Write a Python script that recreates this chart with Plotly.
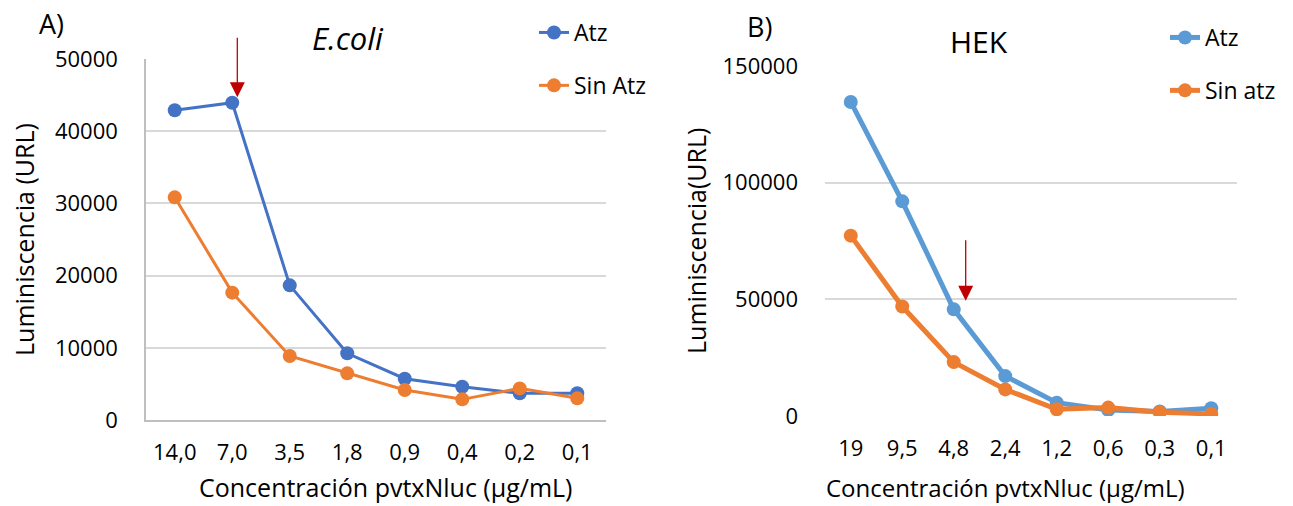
import plotly.graph_objects as go

# ---------------- data ----------------
cats_a = ["14,0", "7,0", "3,5", "1,8", "0,9", "0,4", "0,2", "0,1"]
atz_a = [42900, 43950, 18650, 9240, 5720, 4610, 3690, 3700]
sin_atz_a = [30840, 17640, 8860, 6460, 4150, 2860, 4380, 3000]

cats_b = ["19", "9,5", "4,8", "2,4", "1,2", "0,6", "0,3", "0,1"]
atz_b = [134600, 92000, 45700, 17100, 5700, 2600, 1900, 3300]
sin_atz_b = [77300, 46900, 23100, 11400, 2900, 3600, 1600, 900]

yticks_a = [0, 10000, 20000, 30000, 40000, 50000]
yticks_b = [0, 50000, 100000, 150000]

W, H = 1293, 506
FONT = "Open Sans"
BLUE_A = "#4472C4"
BLUE_B = "#5B9BD5"
ORANGE = "#ED7D31"
GRID = "#D9D9D9"
RED = "#C00000"


def px(x):
    return x / W


def py(y):
    return (H - y) / H


fig = go.Figure()

fig.add_trace(go.Scatter(x=cats_a, y=atz_a, name="Atz", mode="lines+markers",
                         line=dict(color=BLUE_A, width=3), marker=dict(size=14, color=BLUE_A),
                         xaxis="x", yaxis="y", legend="legend", legendgroup="a1"))
fig.add_trace(go.Scatter(x=cats_a, y=sin_atz_a, name="Sin Atz", mode="lines+markers",
                         line=dict(color=ORANGE, width=3), marker=dict(size=14, color=ORANGE),
                         xaxis="x", yaxis="y", legend="legend", legendgroup="a2"))
fig.add_trace(go.Scatter(x=cats_b, y=atz_b, name="Atz", mode="lines+markers",
                         line=dict(color=BLUE_B, width=5), marker=dict(size=14, color=BLUE_B),
                         xaxis="x2", yaxis="y2", legend="legend2", legendgroup="b1"))
fig.add_trace(go.Scatter(x=cats_b, y=sin_atz_b, name="Sin atz", mode="lines+markers",
                         line=dict(color=ORANGE, width=5), marker=dict(size=14, color=ORANGE),
                         xaxis="x2", yaxis="y2", legend="legend2", legendgroup="b2"))

tickfont = dict(family=FONT, size=22, color="#000000")

fig.update_layout(
    width=W, height=H,
    margin=dict(l=0, r=0, t=0, b=0, autoexpand=False),
    paper_bgcolor="white", plot_bgcolor="white",
    font=dict(family=FONT, color="#000000"),
    hovermode=False,
    xaxis=dict(domain=[px(146), px(606)], anchor="y", type="category",
               range=[-0.5, 7.5], showgrid=False, zeroline=False,
               showline=True, linecolor="#BFBFBF", linewidth=1.5,
               ticks="", tickfont=tickfont, ticklabelstandoff=12, automargin=False),
    yaxis=dict(domain=[py(420), py(59)], anchor="x", range=[0, 50000],
               tickvals=yticks_a, ticktext=[str(v) for v in yticks_a],
               showgrid=True, gridcolor=GRID, gridwidth=1.5, zeroline=False,
               showline=True, linecolor="#BFBFBF", linewidth=1.5,
               ticks="", tickfont=tickfont, ticklabelstandoff=22, automargin=False),
    xaxis2=dict(domain=[px(825), px(1237)], anchor="y2", type="category",
                range=[-0.5, 7.5], showgrid=False, zeroline=False, showline=False,
                ticks="", tickfont=tickfont, ticklabelstandoff=17, automargin=False),
    yaxis2=dict(domain=[py(416), py(66)], anchor="x2", range=[0, 150000],
                tickvals=yticks_b, ticktext=[str(v) for v in yticks_b],
                showgrid=True, gridcolor=GRID, gridwidth=1.5, zeroline=False,
                showline=False, ticks="", tickfont=tickfont, ticklabelstandoff=26,
                automargin=False),
    legend=dict(x=px(534), y=py(11), xanchor="left", yanchor="top",
                font=dict(family=FONT, size=23), traceorder="grouped",
                tracegroupgap=20, bgcolor="rgba(0,0,0,0)", itemclick=False),
    legend2=dict(x=px(1165), y=py(16), xanchor="left", yanchor="top",
                 font=dict(family=FONT, size=23), traceorder="grouped",
                 tracegroupgap=20, bgcolor="rgba(0,0,0,0)", itemclick=False),
)


def label(text, x, y, size, angle=0):
    return dict(text=text, x=px(x), y=py(y), xref="paper", yref="paper",
                xanchor="center", yanchor="middle", textangle=angle,
                showarrow=False, font=dict(family=FONT, size=size, color="#000000"))


ann = [
    label("A)", 51, 24, 27),
    label("B)", 759, 26, 27),
    label("<i>E.coli</i>", 348, 38, 31),
    label("HEK", 979, 42, 30),
    label("Luminiscencia (URL)", 24, 240, 25, -90),
    label("Luminiscencia(URL)", 696, 241, 25, -90),
    label("Concentración pvtxNluc (µg/mL)", 386, 487, 25),
    label("Concentración pvtxNluc (µg/mL)", 1005, 487, 24),
]
# red arrows
ann.append(dict(text="", x=1.088, y=44700, xref="x", yref="y", showarrow=True,
                ax=0, ay=-61, arrowhead=2, arrowsize=2.3, arrowwidth=1.3, arrowcolor=RED))
ann.append(dict(text="", x=2.232, y=49400, xref="x2", yref="y2", showarrow=True,
                ax=0, ay=-62, arrowhead=2, arrowsize=2.3, arrowwidth=1.3, arrowcolor=RED))
fig.update_layout(annotations=ann)

fig.write_html("out.html")
